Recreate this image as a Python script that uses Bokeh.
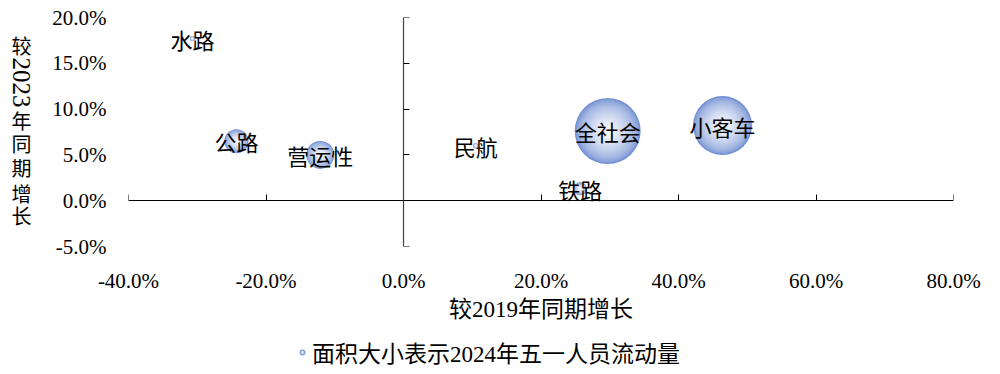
import numpy as np
from bokeh.plotting import figure
from bokeh.layouts import column, row
from bokeh.models import (LinearAxis, FixedTicker, Label, Legend, LegendItem,
                          ColumnDataSource, CustomJSTickFormatter)
from bokeh.core.properties import value
from bokeh.embed import file_html
from bokeh.resources import INLINE

# data
names = ["水路", "公路", "营运性", "民航", "全社会", "小客车", "铁路"]
vs_2019 = [-30.7, -24.3, -12.1, 10.5, 29.7, 46.4, 25.7]   # % growth vs 2019
vs_2023 = [17.7, 6.5, 5.0, 6.0, 7.6, 8.2, 1.3]            # % growth vs 2023
flow = [160, 3570, 4860, 160, 27000, 21600, 1050]         # relative flow (bubble area)
x_ticks = [-40, -20, 0, 20, 40, 60, 80]
y_ticks = [-5, 0, 5, 10, 15, 20]
legend_text = "面积大小表示2024年五一人员流动量"
y_title_parts = ["较", "2023", "年", "同", "期", "增", "长"]

SERIF = "'Liberation Serif', 'Noto Sans CJK SC', serif"
CJK = "'Noto Sans CJK SC', sans-serif"

MAIN_H = 334
TITLE_W = 44
FRAME_LEFT = 128
FRAME_BOTTOM = 246  # canvas y of frame bottom

p = figure(width=1000 - TITLE_W, height=MAIN_H, x_range=(-40, 80), y_range=(-5, 20),
           output_backend="svg", toolbar_location=None,
           min_border_left=FRAME_LEFT - TITLE_W, min_border_right=47, min_border_top=17,
           min_border_bottom=MAIN_H - FRAME_BOTTOM, background_fill_color="white",
           border_fill_color="white", outline_line_color=None)
p.xgrid.visible = False
p.ygrid.visible = False

pct = CustomJSTickFormatter(code="return tick.toFixed(1) + '%';")

# label axes (outer)
xa = p.xaxis[0]
xa.ticker = FixedTicker(ticks=x_ticks)
xa.formatter = pct
xa.axis_line_color = None
xa.major_tick_line_color = None
xa.minor_tick_line_color = None
xa.major_label_standoff = 16
xa.major_label_text_font = SERIF
xa.major_label_text_font_size = "21px"
xa.major_label_text_color = "black"
xa.axis_label = "较2019年同期增长"
xa.axis_label_text_font = SERIF
xa.axis_label_text_font_size = "23px"
xa.axis_label_text_font_style = "normal"
xa.axis_label_text_color = "black"
xa.axis_label_standoff = 1

ya = p.yaxis[0]
ya.ticker = FixedTicker(ticks=y_ticks)
ya.formatter = pct
ya.axis_line_color = None
ya.major_tick_line_color = None
ya.minor_tick_line_color = None
ya.major_label_standoff = 16
ya.major_label_text_font = SERIF
ya.major_label_text_font_size = "21px"
ya.major_label_text_color = "black"

# zero-crossing axes
ax0 = LinearAxis(fixed_location=0, ticker=FixedTicker(ticks=x_ticks),
                 major_label_text_alpha=0, major_label_text_font_size="1px",
                 major_tick_out=6, major_tick_in=0,
                 minor_tick_line_color=None, axis_line_color="black",
                 major_tick_line_color="black", axis_line_width=1.2)
p.add_layout(ax0, "above")
ay0 = LinearAxis(fixed_location=0, ticker=FixedTicker(ticks=y_ticks),
                 major_label_text_alpha=0, major_label_text_font_size="1px",
                 major_tick_out=6, major_tick_in=0,
                 minor_tick_line_color=None, axis_line_color="#404040",
                 major_tick_line_color="black", axis_line_width=1.2)
p.add_layout(ay0, "right")

# bubbles with radial gradient approximation
k = 0.2008
diam = [2 * k * np.sqrt(f) for f in flow]
edge = np.array([114, 144, 210])
center = np.array([253, 253, 255])
n_layers = 22
for i in range(n_layers):
    t = i / (n_layers - 1)
    frac = 1.0 - 0.97 * t
    w = t ** 0.6
    c = (edge * (1 - w) + center * w).astype(int)
    col = "#%02x%02x%02x" % tuple(c)
    src = ColumnDataSource(dict(x=vs_2019, y=vs_2023, s=[d * frac for d in diam]))
    p.scatter("x", "y", size="s", source=src, fill_color=col, line_color=None)

# labels
lsrc = ColumnDataSource(dict(x=vs_2019, y=vs_2023, t=names))
p.text("x", "y", text="t", source=lsrc, text_font=value(CJK), text_font_size="22px",
       text_align="center", text_baseline="middle", text_color="black")

# y-axis title strip, stacked vertically (East Asian vertical layout)
yt = figure(width=TITLE_W, height=MAIN_H, x_range=(0, 1), y_range=(0, 1),
            output_backend="svg", toolbar_location=None, min_border=0,
            outline_line_color=None, background_fill_color="white",
            border_fill_color="white")
yt.axis.visible = False
yt.grid.visible = False
ycent = [46, 82, 121, 144, 168, 194, 216]
for txt, yy in zip(y_title_parts, ycent):
    is_num = txt.isdigit()
    yt.add_layout(Label(x=21, y=FRAME_BOTTOM - yy, x_units="screen",
                        y_units="screen", text=txt,
                        angle=-np.pi / 2 if is_num else 0, text_font=SERIF,
                        text_font_size="25px" if is_num else "20px",
                        text_align="center", text_baseline="middle",
                        text_color="black"))

# legend strip
lg = figure(width=1000, height=374 - MAIN_H, x_range=(0, 1), y_range=(0, 1),
            output_backend="svg", toolbar_location=None, min_border=0,
            outline_line_color=None, background_fill_color="white",
            border_fill_color="white")
lg.axis.visible = False
lg.grid.visible = False
dummy = lg.scatter([-5], [-5], size=10, fill_color="#cdd9f2", line_color="#7f9fd8",
                   line_width=1.2)
leg = Legend(items=[LegendItem(label=legend_text, renderers=[dummy])],
             location=(296, 5), orientation="horizontal", padding=0, margin=0,
             glyph_width=12, glyph_height=12, label_standoff=4,
             label_text_font=SERIF, label_text_font_size="23px",
             label_text_color="black",
             border_line_color=None, background_fill_alpha=0)
lg.add_layout(leg, "center")

layout = column(row(yt, p, spacing=0), lg, spacing=0)
open("out.html", "w").write(file_html(layout, INLINE))
